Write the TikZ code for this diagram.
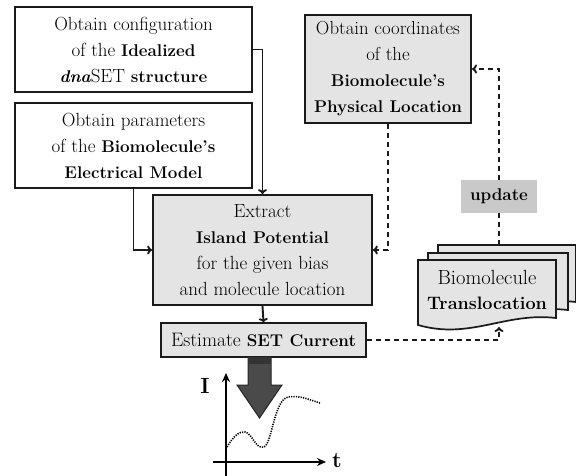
\documentclass[tikz,border=0pt]{standalone}
\usetikzlibrary{arrows.meta}
\definecolor{lightfill}{HTML}{E4E4E4}
\definecolor{updfill}{HTML}{C9C9C9}
\definecolor{edge}{HTML}{1A1A1A}
\definecolor{bigarrow}{HTML}{4A4A4A}
\newcommand\bw[1]{{\fontsize{17}{26}\selectfont\bfseries #1}}
\tikzset{
  boxw/.style={draw=edge, line width=1.7pt, fill=white, align=center, inner sep=0pt,
    font=\fontsize{19}{26}\selectfont},
  boxg/.style={boxw, fill=lightfill},
  conn/.style={draw=edge, line width=1.9pt, -{To[length=5pt,width=9pt]}},
  dconn/.style={draw=edge, line width=1.9pt, dash pattern=on 5pt off 4pt, -{To[length=5pt,width=9pt]}},
  dline/.style={draw=edge, line width=1.9pt, dash pattern=on 5pt off 4pt},
  docshape/.style={draw=edge, line width=1.7pt, fill=lightfill},
}
\begin{document}
\begin{tikzpicture}[x=1pt,y=-1pt]
\useasboundingbox (0,0) rectangle (576,476);

\node[boxw, minimum width=237, minimum height=85] (b1) at (133.5,49.5)
  {Obtain configuration\\ of the \bw{Idealized}\\ \bw{\itshape dna}SET \bw{structure}};
\node[boxw, minimum width=237, minimum height=85] (b2) at (133.5,145.5)
  {Obtain parameters\\ of the \bw{Biomolecule's}\\ \bw{Electrical Model}};
\node[boxg, minimum width=219, minimum height=110] (ext) at (262.5,250)
  {Extract\\ \bw{Island Potential}\\ for the given bias\\ and molecule location};
\node[boxg, line width=2pt, minimum width=166, minimum height=108, font=\fontsize{18.8}{26}\selectfont] (phys) at (388,69)
  {Obtain coordinates\\ of the\\ \bw{Biomolecule's}\\ \bw{Physical Location}};
\node[fill=updfill, minimum width=76, minimum height=33, inner sep=0pt,
  font=\fontsize{17}{20}\selectfont\bfseries] (upd) at (499,196.5) {update};
\node[boxg, minimum width=205, minimum height=34, font=\fontsize{19.5}{20}\selectfont] (est) at (263.5,340)
  {Estimate {\fontsize{17}{20}\selectfont\bfseries SET Current}};

% document stack
\draw[docshape] (438,245) -- (576,245) -- (576,302) .. controls (540,298) and (470,305) .. (438,295) -- cycle;
\draw[docshape] (428,253) -- (568,253) -- (568,310) .. controls (530,306) and (460,313) .. (428,303) -- cycle;
\draw[docshape] (418,260) -- (556,260) -- (556,318) .. controls (505,312) and (470,340) .. (418,325) -- cycle;
\node[align=center, font=\fontsize{20.5}{25}\selectfont] (doc) at (487,290)
  {Biomolecule\\ {\fontsize{18}{25}\selectfont\bfseries Translocation}};
\coordinate (docTop) at (499,245);
\coordinate (docBot) at (499,327);

% connectors
\draw[conn] (b1.east) -| (ext.north);
\draw[conn] (b2.south) |- (ext.west);
\draw[dconn] (phys.south) |- (ext.east);
\draw[dconn] (upd.north) |- (phys.east);
\draw[dline] (upd.south) -- (docTop);
\draw[conn, -{To[length=4pt,width=9pt,open]}] (ext.south) -- (est.north);
\draw[dconn] (est.east) -| (docBot);

% big arrow
\draw[fill=bigarrow, draw=black!85, line width=1pt]
  (248,357) -- (271,357) -- (271,385) -- (282,385) -- (259.5,418) -- (237,385) -- (248,385) -- cycle;
\fill[black!80] (248.5,357.5) rectangle (270.5,364);

% axes
\coordinate (yb) at (226,476);
\coordinate (yt) at (226,373);
\coordinate (xl) at (213,462);
\coordinate (xr) at (326,462);
\draw[line width=1.8pt, -{Stealth[length=9pt,width=8pt]}] (yb) -- (yt);
\draw[line width=1.8pt, -{Stealth[length=9pt,width=8pt]}] (xl) -- (xr);
\node[font=\fontsize{22}{22}\selectfont\bfseries] (ilab) at (205,386) {I};
\node[font=\fontsize{22}{22}\selectfont\bfseries] (tlab) at (337,461) {t};
\draw[line width=1.6pt, dash pattern=on 1.2pt off 1.2pt] (227,447) .. controls (233,437) and (239,431) .. (245,432)
  .. controls (252,433) and (256,450) .. (264,447)
  .. controls (272,444) and (274,400) .. (288,397)
  .. controls (300,395) and (310,400) .. (320,403);
\end{tikzpicture}
\end{document}
